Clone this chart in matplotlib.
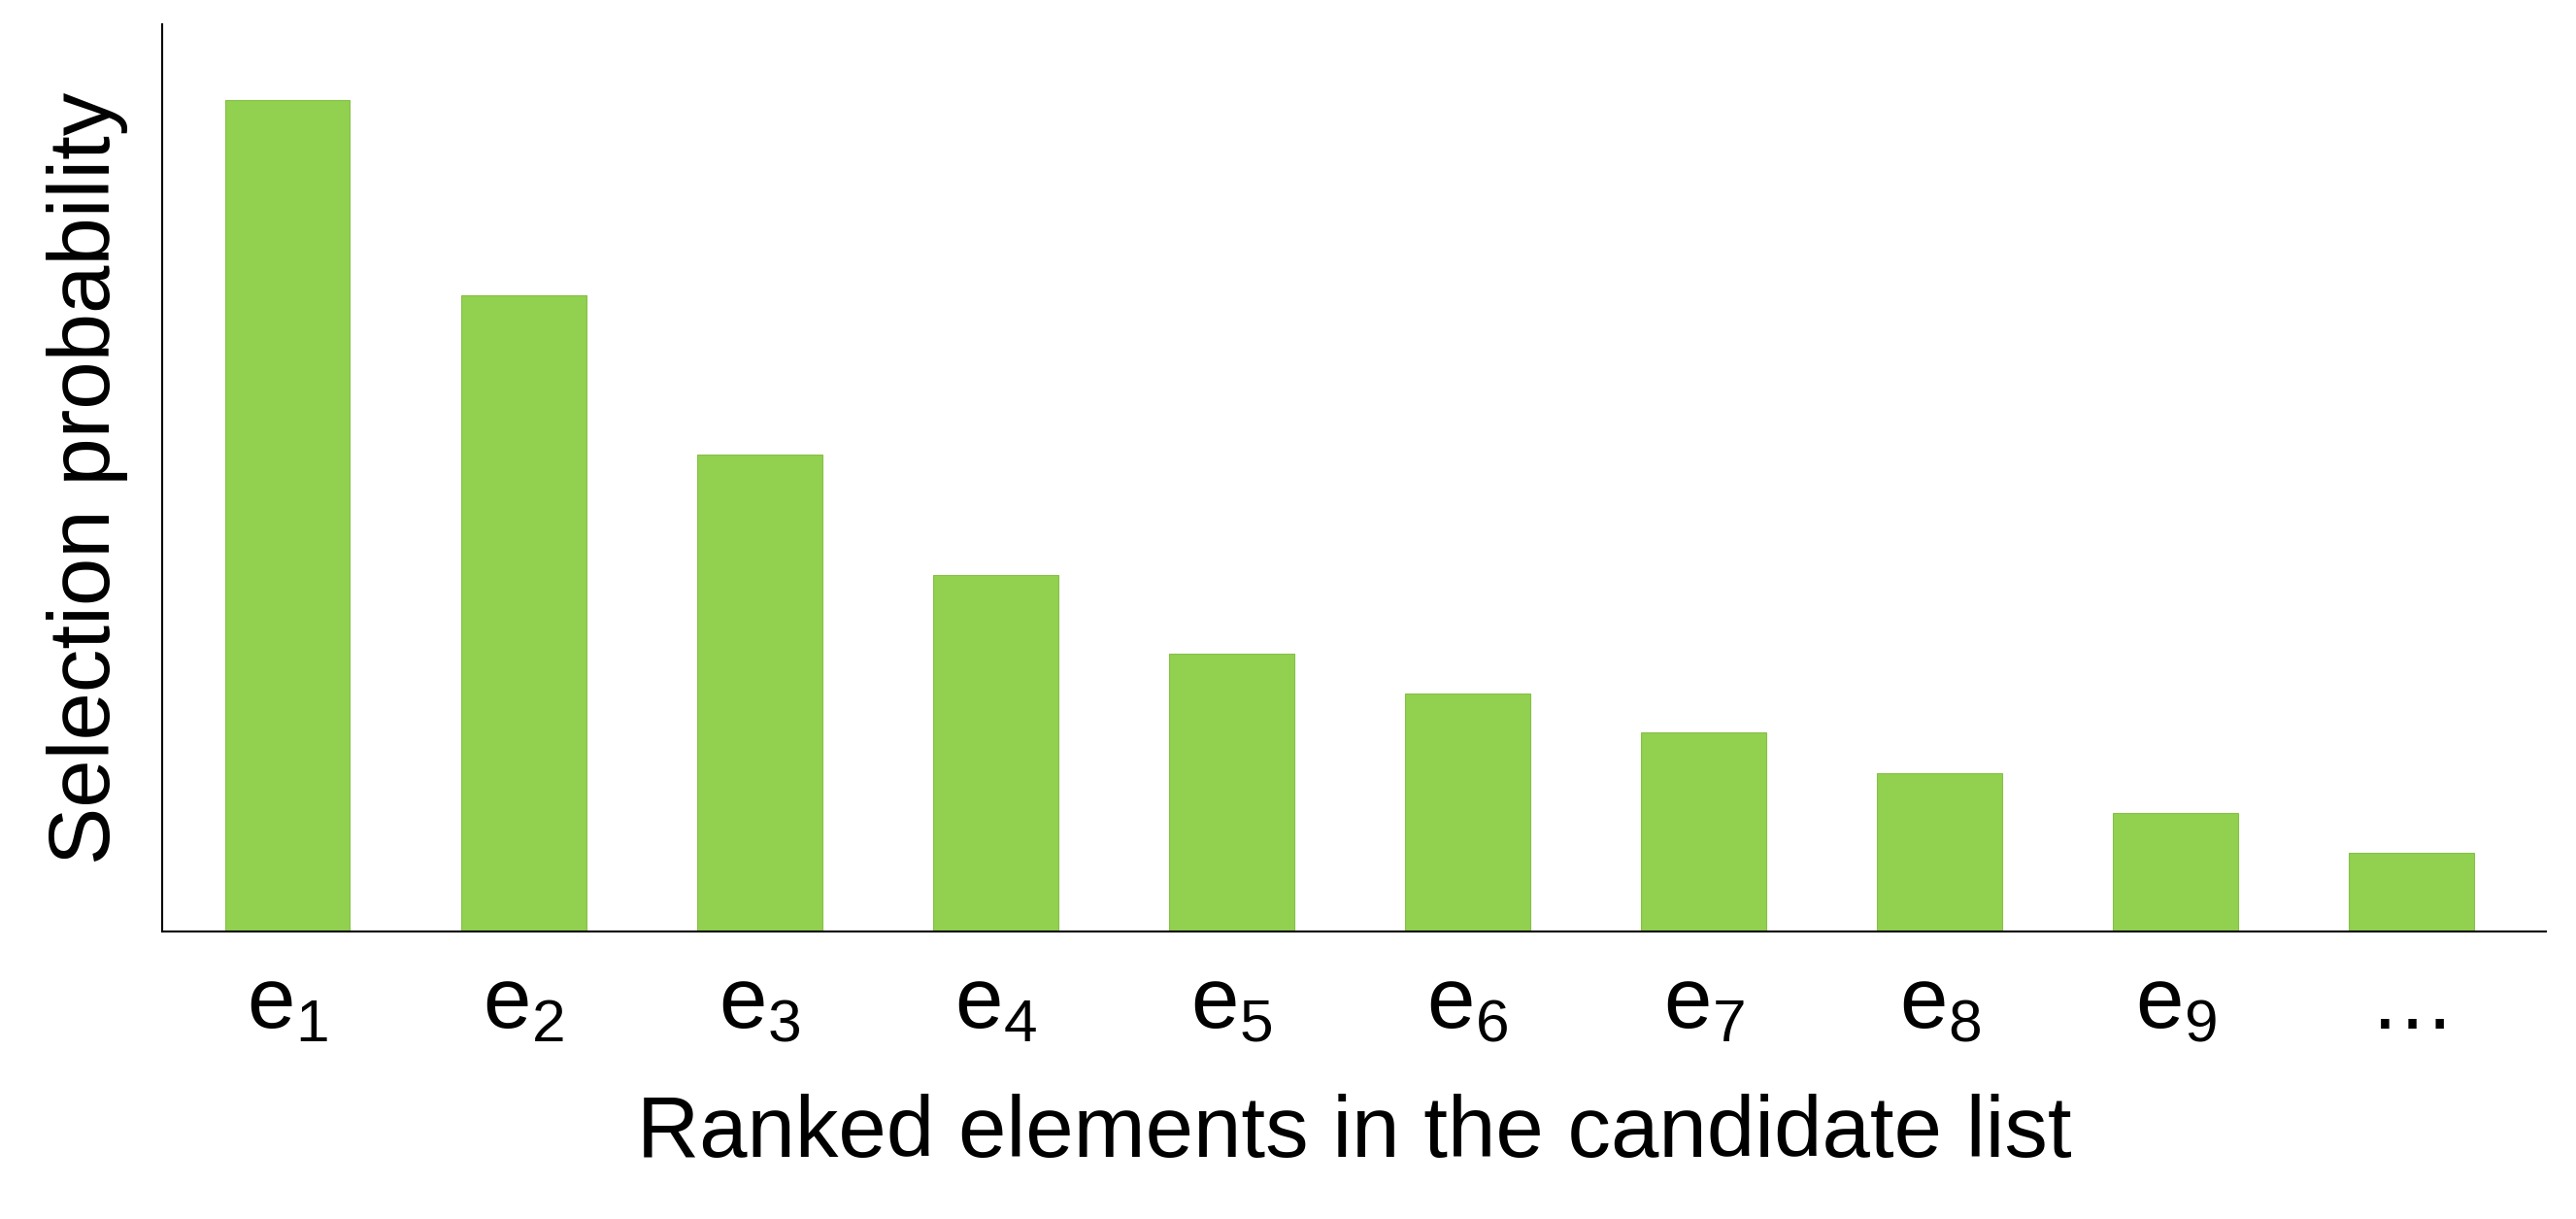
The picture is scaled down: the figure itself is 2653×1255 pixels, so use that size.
import matplotlib
matplotlib.use("Agg")
import matplotlib.pyplot as plt

plt.rcParams['font.family'] = ['Liberation Sans', 'DejaVu Sans']
plt.rcParams['mathtext.fontset'] = 'custom'
plt.rcParams['mathtext.rm'] = 'Liberation Sans'
plt.rcParams['mathtext.it'] = 'Liberation Sans'

labels = [r'$\mathrm{e}_{1}$', r'$\mathrm{e}_{2}$', r'$\mathrm{e}_{3}$', r'$\mathrm{e}_{4}$',
          r'$\mathrm{e}_{5}$', r'$\mathrm{e}_{6}$', r'$\mathrm{e}_{7}$', r'$\mathrm{e}_{8}$',
          r'$\mathrm{e}_{9}$', '…']
values = [506, 387, 290, 217, 169, 145, 121, 96, 72, 48]

fig = plt.figure(figsize=(26.53, 12.55), dpi=100)
ax = fig.add_axes([0.063, 0.236, 0.9255, 0.744])
x = range(len(values))
ax.bar(x, values, width=0.53, color='#92D050', edgecolor='#86C046', linewidth=0.8)
ax.set_xlim(-0.53, 9.57)
ax.set_ylim(0, 552)
ax.set_xticks(list(x))
ax.set_xticklabels(labels, fontsize=64)
ax.tick_params(axis='x', length=0, pad=25)
ax.set_yticks([])
ax.spines['top'].set_visible(False)
ax.spines['right'].set_visible(False)
ax.spines['left'].set_linewidth(1.5)
ax.spines['bottom'].set_linewidth(1.5)
ax.set_xlabel('Ranked elements in the candidate list', fontsize=64, labelpad=35)
ax.set_ylabel('Selection probability', fontsize=64, labelpad=25)
fig.savefig('out.png', dpi=100)
